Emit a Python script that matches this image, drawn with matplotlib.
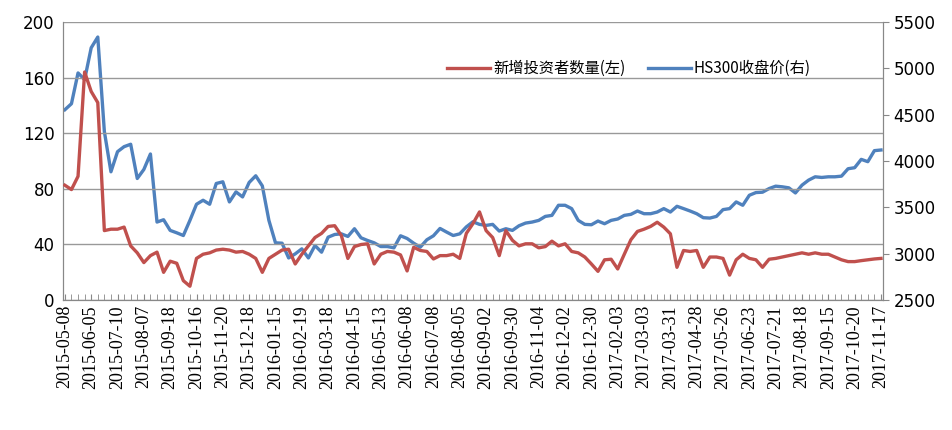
import matplotlib
matplotlib.use("Agg")
import matplotlib.pyplot as plt
import numpy as np

tick_labels = ["2015-05-08","2015-06-05","2015-07-10","2015-08-07","2015-09-18","2015-10-16",
"2015-11-20","2015-12-18","2016-01-15","2016-02-19","2016-03-18","2016-04-15","2016-05-13",
"2016-06-08","2016-07-08","2016-08-05","2016-09-02","2016-09-30","2016-11-04","2016-12-02",
"2016-12-30","2017-02-03","2017-03-03","2017-03-31","2017-04-28","2017-05-26","2017-06-23",
"2017-07-21","2017-08-18","2017-09-15","2017-10-20","2017-11-17"]

new_investors = [82.6,79.5,89,164,150,142,50,51,51,52.5,39,34,27,32,34.5,20,28,26.5,14,10,
30,33,34,36,36.6,36,34.5,35,33,30,20,30,33,36,36.6,26,33,39,45,48,53,53.5,46.5,30,38.5,40,40.5,
26,33,35,34.5,32.5,21,38,35.7,35,29.6,32,32,33,30,48,55,
63.4,50,45,32,50,43,39,40.5,40.5,37.6,38.5,42.4,39,40.5,35,34,31,26,20.7,29,29.4,22.4,33,43.4,
49.4,51,53,56,52.5,47.7,23.6,35.7,35,35.7,23.6,31,31,30,18,29,33,30,29,23.6,29.4,30,31,32,33,
34,33,34,33,33,31,29,27.7,27.7,28.4,29,29.6,30]

hs300 = [4553,4618,4950,4878,5221,5337,4318,3884,4101,4155,4181,3812,3909,4076,3342,3367,3252,
3226,3197,3360,3534,3577,3534,3758,3776,3559,3667,3613,3769,3841,3732,3360,3118,3114,2955,2999,
3053,2955,3089,3017,3179,3208,3215,3187,3270,3172,3143,3118,3078,3078,3064,3194,3165,3114,3071,
3151,3194,3273,3234,3197,3215,3290,3345,
3317,3306,3317,3245,3270,3252,3302,3331,3342,3360,3403,3414,3523,3523,3487,3360,3317,3313,3353,
3324,3360,3375,3414,3425,3461,3432,3432,3450,3487,3450,3512,3487,3461,3432,3389,3385,3403,3476,
3487,3559,3523,3631,3660,3664,3703,3729,3722,3711,3656,3740,3794,3830,3823,3830,3830,3837,3917,
3928,4018,3993,4112,4119]

n = min(len(new_investors), len(hs300))
new_investors = new_investors[:n]
hs300 = hs300[:n]
x = list(range(n))

fig = plt.figure(figsize=(9.53, 4.30), dpi=100)
ax = fig.add_axes([0.066, 0.302, 0.8605, 0.647])
ax2 = ax.twinx()

red = "#C0504D"; blue = "#4F81BD"
l1, = ax.plot(x, new_investors, color=red, lw=2.4, label="新增投资者数量(左)", zorder=3)
l2, = ax2.plot(x, hs300, color=blue, lw=2.4, label="HS300收盘价(右)", zorder=2)
ax.set_zorder(ax2.get_zorder() + 1)
ax.patch.set_visible(False)

ax.set_ylim(0, 200)
ax.set_yticks(range(0, 201, 40))
ax2.set_ylim(2500, 5500)
ax2.set_yticks(range(2500, 5501, 500))
ax.set_xlim(-0.3, n - 0.7)
ax.yaxis.grid(True, color="#999999", lw=1)
ax.set_axisbelow(True)

pos = np.linspace(0, n - 1, len(tick_labels))
ax.set_xticks(pos)
ax.set_xticklabels(tick_labels, rotation=90, fontsize=13, family="Liberation Serif")
ax.set_xticks(x, minor=True)
ax.tick_params(axis="x", which="both", direction="in", length=4, color="#888888")
ax.tick_params(axis="y", length=0, labelsize=12, pad=6)
ax2.tick_params(axis="y", length=4, labelsize=12, color="#888888")

for a in (ax, ax2):
    a.spines["top"].set_visible(False)
    for s in ("left", "right", "bottom"):
        a.spines[s].set_color("#888888")

fig.legend(handles=[l1, l2], loc="center", bbox_to_anchor=(0.66, 0.84), ncol=2, frameon=False,
           prop={"family": ["Noto Sans CJK SC", "DejaVu Sans"], "size": 11},
           handlelength=2.8, columnspacing=1.5, handletextpad=0.2)

fig.savefig("out.png", dpi=100)
